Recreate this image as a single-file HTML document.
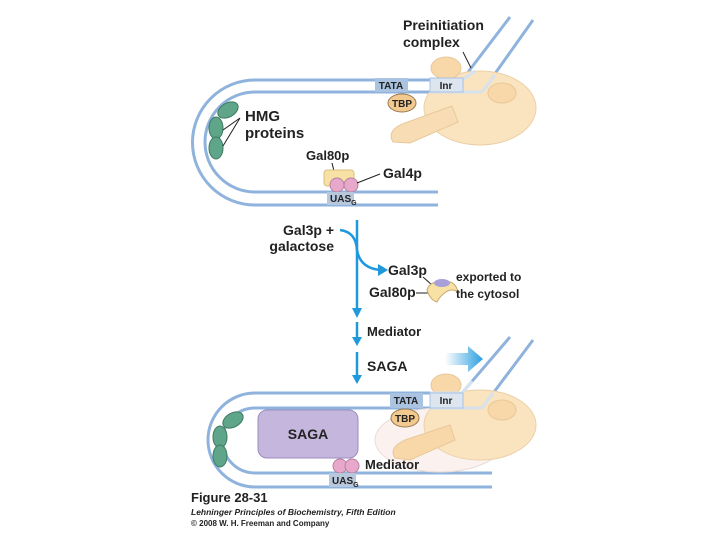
<!DOCTYPE html>
<html><head><style>body{margin:0;background:#fff}svg{display:block}text{font-family:"Liberation Sans",sans-serif;font-weight:bold;fill:#222}</style></head><body>
<svg width="720" height="540" viewBox="0 0 720 540">
<defs><linearGradient id="g" x1="0" x2="1"><stop offset="0" stop-color="#2a9ee0" stop-opacity="0"/><stop offset="1" stop-color="#2a9ee0"/></linearGradient></defs>
<g fill="none" stroke="#8fb3dc" stroke-width="3">
<path d="M510,17 L462,80 L255,80 A62,62 0 0 0 255,205 L438,205"/>
<path d="M533,20 L482,92 L255,92 A50,50 0 0 0 255,192 L438,192"/>
<path d="M510,337 L462,393 L255,393 A47,47 0 0 0 255,487 L492,487"/>
<path d="M533,340 L482,408 L255,408 A32,32 0 0 0 255,473 L492,473"/>
</g>
<!-- top complex -->
<g>
<ellipse cx="480" cy="108" rx="56" ry="37" fill="#fae3bf" stroke="#ecd0a8"/>
<ellipse cx="446" cy="68" rx="15" ry="11" fill="#f8d8a8" stroke="#e8c898"/>
<ellipse cx="502" cy="93" rx="14" ry="10" fill="#f8d8a8" stroke="#e8c898"/>
<path d="M393,142 Q386,130 405,123 L452,106 L458,122 L410,143 Z" fill="#f8ddb4" stroke="#e8c898"/>
</g>
<g fill="none" stroke="#d6e2ee" stroke-width="3"><path d="M462,80 L430,80 M482,92 L430,92 M475,71 L462,80 M495,75 L482,92"/></g>
<rect x="375" y="78" width="33" height="14" fill="#a9c3e0"/><text x="391" y="89" font-size="10" text-anchor="middle">TATA</text>
<rect x="430" y="78" width="33" height="14" fill="#dde6ef" stroke="#a9c3e0"/><text x="446" y="89" font-size="10" text-anchor="middle">Inr</text>
<ellipse cx="402" cy="103" rx="14" ry="9" fill="#f2c98f" stroke="#9a7a50"/><text x="402" y="107" font-size="10" text-anchor="middle">TBP</text>
<text x="403" y="30" font-size="14">Preinitiation</text><text x="403" y="47" font-size="14">complex</text>
<line x1="463" y1="52" x2="471" y2="68" stroke="#222"/>
<g fill="#5fa58a" stroke="#3d7a62"><ellipse cx="228" cy="110" rx="11" ry="7" transform="rotate(-30 228 110)"/><ellipse cx="216" cy="128" rx="7" ry="11"/><ellipse cx="216" cy="148" rx="7" ry="11"/></g>
<path d="M240,118 L223,130 M240,118 L223,146" stroke="#222" fill="none"/>
<text x="245" y="121" font-size="15">HMG</text><text x="245" y="138" font-size="15">proteins</text>
<text x="306" y="160" font-size="13">Gal80p</text><line x1="332" y1="163" x2="335" y2="175" stroke="#222"/>
<rect x="324" y="170" width="30" height="16" rx="3" fill="#f7e1a4" stroke="#d9c080"/>
<circle cx="337" cy="185" r="7" fill="#e8a8cc" stroke="#b880a0"/><circle cx="351" cy="185" r="7" fill="#e8a8cc" stroke="#b880a0"/>
<line x1="357" y1="183" x2="380" y2="174" stroke="#222"/><text x="383" y="178" font-size="14">Gal4p</text>
<rect x="327" y="192" width="27" height="13" fill="#b8c8dc"/><text x="330" y="202" font-size="10">UAS<tspan font-size="7" dy="3">G</tspan></text>
<!-- middle arrows -->
<g stroke="#1f98dc" stroke-width="2.5" fill="none"><line x1="357" y1="220" x2="357" y2="312"/><path d="M340,230 Q356,232 357,250 Q360,268 380,270"/><line x1="357" y1="322" x2="357" y2="340"/><line x1="357" y1="352" x2="357" y2="378"/></g>
<g fill="#1f98dc"><path d="M352,308 L362,308 L357,318 Z"/><path d="M352,337 L362,337 L357,346 Z"/><path d="M352,375 L362,375 L357,384 Z"/><path d="M378,264 L388,270 L378,276 Z"/></g>
<text x="334" y="235" font-size="14" text-anchor="end">Gal3p +</text><text x="334" y="251" font-size="14" text-anchor="end">galactose</text>
<text x="388" y="275" font-size="14">Gal3p</text><text x="369" y="297" font-size="14">Gal80p</text>
<path d="M423,277 L432,285 M416,293 L428,293" stroke="#222"/>
<path d="M427,290 Q430,280 445,282 Q455,280 458,292 Q452,288 446,292 Q440,296 437,302 Q430,300 427,290Z" fill="#f7e1a4" stroke="#c9a870"/>
<ellipse cx="442" cy="283" rx="8" ry="4" fill="#a8a0d8"/>
<text x="456" y="281" font-size="12">exported to</text><text x="456" y="298" font-size="12">the cytosol</text>
<text x="367" y="336" font-size="13">Mediator</text><text x="367" y="371" font-size="14">SAGA</text>
<path d="M445,353 L468,353 L468,346 L483,359 L468,372 L468,365 L445,365Z" fill="url(#g)"/>
<!-- bottom -->
<ellipse cx="440" cy="440" rx="65" ry="32" fill="#fbf2ef" stroke="#eadcd6"/>
<ellipse cx="480" cy="425" rx="56" ry="35" fill="#fae3bf" stroke="#ecd0a8"/>
<ellipse cx="446" cy="385" rx="15" ry="11" fill="#f8d8a8" stroke="#e8c898"/>
<ellipse cx="502" cy="410" rx="14" ry="10" fill="#f8d8a8" stroke="#e8c898"/>
<path d="M395,458 Q388,448 405,440 L450,425 L455,440 L410,460 Z" fill="#f8d8a8" stroke="#e8c898"/>
<g fill="none" stroke="#d6e2ee" stroke-width="3"><path d="M462,393 L430,393 M482,408 L430,408 M472,381 L462,393 M493,393 L482,408"/></g>
<rect x="390" y="393" width="33" height="15" fill="#a9c3e0"/><text x="406" y="404" font-size="10" text-anchor="middle">TATA</text>
<rect x="430" y="393" width="33" height="15" fill="#dde6ef" stroke="#a9c3e0"/><text x="446" y="404" font-size="10" text-anchor="middle">Inr</text>
<ellipse cx="405" cy="418" rx="14" ry="9" fill="#f2c98f" stroke="#9a7a50"/><text x="405" y="422" font-size="10" text-anchor="middle">TBP</text>
<rect x="258" y="410" width="100" height="48" rx="9" fill="#c4b6dc" stroke="#9c8cc0"/><text x="308" y="439" font-size="14" text-anchor="middle">SAGA</text>
<g fill="#5fa58a" stroke="#3d7a62"><ellipse cx="233" cy="420" rx="11" ry="7" transform="rotate(-30 233 420)"/><ellipse cx="220" cy="437" rx="7" ry="11"/><ellipse cx="220" cy="456" rx="7" ry="11"/></g>
<circle cx="340" cy="466" r="7" fill="#e8a8cc" stroke="#b880a0"/><circle cx="352" cy="466" r="7" fill="#e8a8cc" stroke="#b880a0"/>
<text x="365" y="469" font-size="13">Mediator</text>
<rect x="329" y="473" width="27" height="14" fill="#b8c8dc"/><text x="332" y="484" font-size="10">UAS<tspan font-size="7" dy="3">G</tspan></text>
<text x="191" y="502" font-size="13">Figure 28-31</text>
<text x="191" y="515" font-size="8.5" font-style="italic">Lehninger Principles of Biochemistry, Fifth Edition</text>
<text x="191" y="526" font-size="8" font-weight="normal">© 2008 W. H. Freeman and Company</text>
</svg>
</body></html>
